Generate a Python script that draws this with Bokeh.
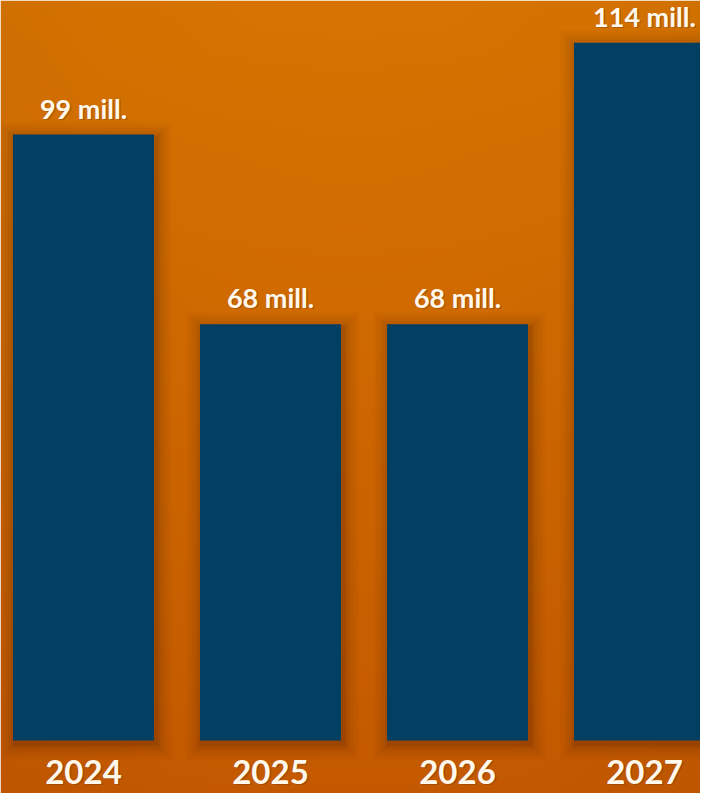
import numpy as np
from bokeh.plotting import figure
from bokeh.models import Range1d, ColumnDataSource
from bokeh.core.properties import value
from bokeh.embed import file_html
from bokeh.resources import INLINE

years = ["2024", "2025", "2026", "2027"]
values = [99, 68, 68, 114]
value_labels = ["99 mill.", "68 mill.", "68 mill.", "114 mill."]

W, H = 700, 793
x = list(range(len(years)))
px_per_x = 187.0
px_per_y = 6.12
x0 = -83.0 / px_per_x
x1 = x0 + W / px_per_x
y0 = -53.0 / px_per_y
y1 = y0 + H / px_per_y

p = figure(width=W, height=H, output_backend="svg", toolbar_location=None,
           x_range=Range1d(x0, x1), y_range=Range1d(y0, y1),
           min_border=0, border_fill_color="#D06D00", outline_line_color=None)
p.axis.visible = False
p.grid.visible = False

# background gradient (decorative)
ny, nx = 200, 180
gy = np.linspace(0, 1, ny)[:, None]  # 0 bottom -> 1 top
gx = np.linspace(0, 1, nx)[None, :]
top = np.array([0xD7, 0x74, 0x02], float)
bot = np.array([0xC4, 0x59, 0x00], float)
t = gy ** 0.9
col = bot[None, None, :] * (1 - t[..., None]) + top[None, None, :] * t[..., None]
vign = 1 - 0.03 * (np.abs(gx - 0.5) * 2) ** 2
col = col * vign[..., None]
img = np.empty((ny, nx), dtype=np.uint32)
view = img.view(dtype=np.uint8).reshape((ny, nx, 4))
view[..., 0] = col[..., 0].astype(np.uint8)
view[..., 1] = col[..., 1].astype(np.uint8)
view[..., 2] = col[..., 2].astype(np.uint8)
view[..., 3] = 255
p.image_rgba(image=[img], x=x0, y=y0, dw=x1 - x0, dh=y1 - y0)

src = ColumnDataSource(dict(x=x, top=values, years=years, labels=value_labels))

bw = 141.0 / px_per_x
# soft shadow layers (decorative)
for k, a in [(16, 0.025), (13, 0.03), (10, 0.04), (7, 0.05), (4, 0.07), (2, 0.09)]:
    dx = k / px_per_x
    dy = k / px_per_y
    p.vbar(x=[xi + 2 / px_per_x for xi in x], top=[v + (k - 4) / px_per_y for v in values],
           width=bw + 2 * dx, bottom=-dy - 3 / px_per_y,
           fill_color="#3a1500", fill_alpha=a, line_color=None)

p.vbar(x="x", top="top", width=bw, bottom=0, source=src,
       fill_color="#033F63", line_color=None)

# text shadows
p.text(x="x", y="top", text="labels", source=src, text_align="center",
       text_baseline="bottom", y_offset=-9, x_offset=1.5,
       text_font=value("Lato"), text_font_style="bold", text_font_size="27px",
       text_color="#5a2800", text_alpha=0.3)
p.text(x="x", y="top", text="labels", source=src, text_align="center",
       text_baseline="bottom", y_offset=-10,
       text_font=value("Lato"), text_font_style="bold", text_font_size="27px",
       text_color="#FFF8EC")

p.text(x="x", y=0, text="years", source=src, text_align="center",
       text_baseline="middle", y_offset=32, x_offset=1.5,
       text_font=value("Lato"), text_font_style="bold", text_font_size="33px",
       text_color="#5a2800", text_alpha=0.3)
p.text(x="x", y=0, text="years", source=src, text_align="center",
       text_baseline="middle", y_offset=31,
       text_font=value("Lato"), text_font_style="bold", text_font_size="33px",
       text_color="#FFF8EC")

open("out.html", "w").write(file_html(p, INLINE))
